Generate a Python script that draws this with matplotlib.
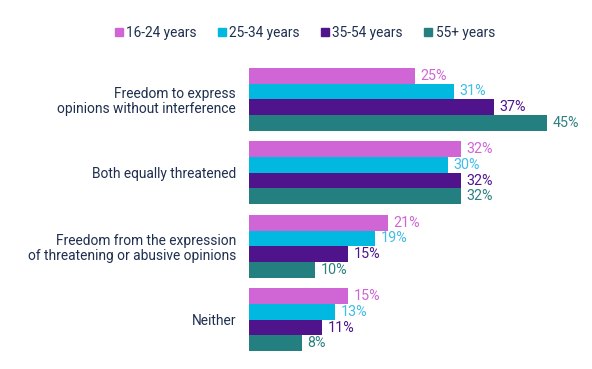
import numpy as np
import matplotlib
matplotlib.use("Agg")
import matplotlib.pyplot as plt
from matplotlib.lines import Line2D

plt.rcParams['font.family'] = ['Roboto', 'DejaVu Sans']

categories = ["Freedom to express\nopinions without interference",
              "Both equally threatened",
              "Freedom from the expression\nof threatening or abusive opinions",
              "Neither"]
groups = ["16-24 years", "25-34 years", "35-54 years", "55+ years"]
values = {
    "16-24 years": [25, 32, 21, 15],
    "25-34 years": [31, 30, 19, 13],
    "35-54 years": [37, 32, 15, 11],
    "55+ years": [45, 32, 10, 8],
}
bar_colors = ["#D066D6", "#00B8E0", "#4F148C", "#247F80"]
text_colors = ["#D066D6", "#3FBDE6", "#4F148C", "#2E8080"]
navy = "#1F2F4F"

fig = plt.figure(figsize=(5.92, 3.69), dpi=100)
ax = fig.add_axes([249/592, 1 - 351/369, 1 - 249/592, 283/369])

step = 4.7
for j, g in enumerate(groups):
    for i, v in enumerate(values[g]):
        y = i * step + j + 0.5
        ax.barh(y, v, height=1.0, color=bar_colors[j], edgecolor="none")
        ax.text(v + 0.85, y, "%d%%" % v, va="center", ha="left",
                fontsize=10.3, color=text_colors[j])

ax.set_xlim(0, 343 / 6.62)
ax.set_ylim(3 * step + 4, 0)
ax.set_yticks([i * step + 2 for i in range(len(categories))])
ax.set_yticklabels(categories, fontsize=9.9, color=navy, linespacing=1.15)
ax.tick_params(axis="y", length=0, pad=9.4)
ax.set_xticks([])
for s in ax.spines.values():
    s.set_visible(False)

handles = [Line2D([], [], marker="s", linestyle="none", markersize=6,
                  color=c, label=g) for c, g in zip(bar_colors, groups)]
leg = fig.legend(handles=handles, loc="center", bbox_to_anchor=(304/592, 1 - 33/369),
                 ncol=4, frameon=False, fontsize=9.8, handletextpad=0.15,
                 columnspacing=1.45, handlelength=0.8)
for t in leg.get_texts():
    t.set_color(navy)

fig.savefig("out.png", dpi=100)
